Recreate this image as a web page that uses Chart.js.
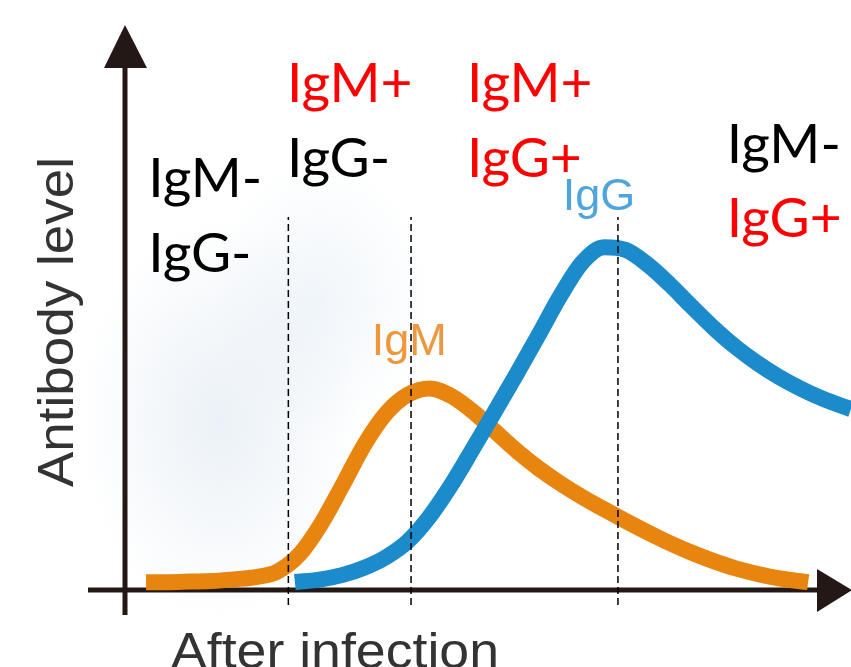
<!DOCTYPE html>
<html>
<head>
<meta charset="utf-8">
<script src="https://cdn.jsdelivr.net/npm/chart.js@4"></script>
<style>
  html, body { margin: 0; padding: 0; }
  body {
    width: 851px; height: 667px; overflow: hidden;
    background:
      radial-gradient(ellipse 140px 200px at 220px 420px, rgba(205, 220, 234, 0.4), rgba(255,255,255,0) 100%),
      radial-gradient(ellipse 110px 140px at 320px 300px, rgba(214, 228, 240, 0.35), rgba(255,255,255,0) 100%),
      #ffffff;
  }
  canvas { display: block; }
</style>
</head>
<body>
<canvas id="chart" width="851" height="667"></canvas>
<script>
// curvas de anticuerpos (tiempo arbitrario 0-100, nivel arbitrario 0-100)
const igmX = [2.9, 6, 9, 12, 15, 18, 21, 24, 27, 30, 33, 36, 39, 42, 45, 48, 51, 54, 57, 60, 63, 66, 69, 72, 75, 78, 81, 84, 87, 90, 94.1];
const igmY = [1.4, 1.4, 1.5, 1.6, 1.9, 2.3, 3.3, 6.3, 11.8, 18.8, 26.0, 31.6, 34.9, 36.0, 34.6, 31.8, 28.3, 24.8, 21.7, 19.0, 16.6, 14.4, 12.3, 10.3, 8.4, 6.7, 5.2, 3.9, 2.9, 2.1, 1.4];
const iggX = [23.4, 27, 30, 33, 36, 39, 42, 45, 48, 51, 54, 57, 60, 63, 66, 69, 72, 75, 78, 81, 84, 87, 90, 93, 96, 100];
const iggY = [1.4, 1.9, 2.7, 4.0, 5.9, 8.75, 13.2, 18.9, 25.4, 32.0, 38.7, 45.6, 52.6, 58.5, 61.2, 60.7, 58.1, 54.6, 50.7, 46.9, 43.5, 40.6, 38.1, 36.0, 34.2, 32.3];

// limites de fase (lineas punteadas)
const phaseBounds = [22.5, 39.4, 67.9];
const dashRange = [-2.7, 66.6];

// etiquetas de cada fase
const phaseX = [3.2, 22.3, 47.1, 82.9];
const phaseY1 = [70.2, 87.1, 87.1, 76.25];
const phaseY2 = [56.8, 73.75, 73.75, 63.0];
const phaseIgm = ['IgM-', 'IgM+', 'IgM+', 'IgM-'];
const phaseIgg = ['IgG-', 'IgG-', 'IgG+', 'IgG+'];

// etiquetas de las curvas
const curveNames = ['IgM', 'IgG'];
const curveLabelX = [34.0, 60.3];
const curveLabelY = [42.0, 67.9];

const ORANGE = '#E8850F';
const BLUE = '#1B8BCB';
const AXIS = '#231815';

function toPoints(xs, ys) {
    return xs.map((x, i) => ({ x: x, y: ys[i] }));
}

// texto ajustado a un ancho dado
function fitText(ctx, text, x, y, width) {
    const w = ctx.measureText(text).width;
    ctx.save();
    ctx.translate(x, y);
    ctx.scale(width / w, 1);
    ctx.fillText(text, 0, 0);
    ctx.restore();
}

const dashedSets = phaseBounds.map(x => ({
    data: [{ x: x, y: dashRange[0] }, { x: x, y: dashRange[1] }],
    borderColor: '#000',
    borderWidth: 1.5,
    borderDash: [7, 4],
    pointRadius: 0,
    clip: false,
    order: -1
}));

// ejes con flecha y textos
const decorPlugin = {
    id: 'decor',
    beforeDatasetsDraw(chart) {
        const ctx = chart.ctx;
        const xs = chart.scales.x;
        const ys = chart.scales.y;
        const left = xs.getPixelForValue(0);
        const base = ys.getPixelForValue(0);
        ctx.save();
        ctx.strokeStyle = AXIS;
        ctx.fillStyle = AXIS;
        ctx.lineWidth = 5;
        // eje y
        ctx.beginPath();
        ctx.moveTo(left, base + 25);
        ctx.lineTo(left, 60);
        ctx.stroke();
        ctx.beginPath();
        ctx.moveTo(left, 25);
        ctx.lineTo(left - 21, 68);
        ctx.lineTo(left + 22, 68);
        ctx.closePath();
        ctx.fill();
        // eje x
        ctx.beginPath();
        ctx.moveTo(left - 37, base);
        ctx.lineTo(822, base);
        ctx.stroke();
        ctx.beginPath();
        ctx.moveTo(852, base);
        ctx.lineTo(817, base - 21);
        ctx.lineTo(817, base + 22);
        ctx.closePath();
        ctx.fill();

        // titulos de ejes
        ctx.fillStyle = '#333';
        ctx.font = '50px "Liberation Sans", Arial, sans-serif';
        ctx.textBaseline = 'alphabetic';
        ctx.textAlign = 'left';
        ctx.save();
        ctx.translate(73, 487);
        ctx.rotate(-Math.PI / 2);
        fitText(ctx, 'Antibody level', 0, 0, 330);
        ctx.restore();
        fitText(ctx, 'After infection', 171, 668, 328);
        ctx.restore();
    },
    afterDraw(chart) {
        const ctx = chart.ctx;
        const xs = chart.scales.x;
        const ys = chart.scales.y;
        ctx.save();
        ctx.textAlign = 'left';
        ctx.textBaseline = 'alphabetic';
        // nombres de curvas
        ctx.font = '45px "Liberation Sans", Arial, sans-serif';
        const curveColors = ['rgba(236, 140, 40, 0.9)', 'rgba(60, 155, 215, 0.9)'];
        curveNames.forEach((n, i) => {
            ctx.fillStyle = curveColors[i];
            ctx.fillText(n, xs.getPixelForValue(curveLabelX[i]), ys.getPixelForValue(curveLabelY[i]));
        });
        // estado de anticuerpos por fase
        ctx.font = '55px Lato, "Noto Sans", sans-serif';
        phaseX.forEach((x, i) => {
            const px = xs.getPixelForValue(x);
            ctx.fillStyle = phaseIgm[i].endsWith('+') ? '#FF0000' : '#000000';
            ctx.fillText(phaseIgm[i], px, ys.getPixelForValue(phaseY1[i]));
            ctx.fillStyle = phaseIgg[i].endsWith('+') ? '#FF0000' : '#000000';
            ctx.fillText(phaseIgg[i], px, ys.getPixelForValue(phaseY2[i]));
        });
        ctx.restore();
    }
};

new Chart(document.getElementById('chart'), {
    type: 'line',
    data: {
        datasets: [
            {
                label: 'IgG',
                data: toPoints(iggX, iggY),
                borderColor: BLUE,
                borderWidth: 16,
                borderCapStyle: 'butt',
                borderJoinStyle: 'round',
                cubicInterpolationMode: 'monotone',
                pointRadius: 0,
                clip: false,
                order: 0
            },
            {
                label: 'IgM',
                data: toPoints(igmX, igmY),
                borderColor: ORANGE,
                borderWidth: 16,
                borderCapStyle: 'butt',
                borderJoinStyle: 'round',
                cubicInterpolationMode: 'monotone',
                pointRadius: 0,
                clip: false,
                order: 1
            },
            ...dashedSets
        ]
    },
    options: {
        responsive: false,
        animation: false,
        events: [],
        layout: { padding: { left: 125, right: 0, top: 30, bottom: 77 } },
        scales: {
            x: { type: 'linear', min: 0, max: 100, display: false },
            y: { type: 'linear', min: 0, max: 100, display: false }
        },
        plugins: {
            legend: { display: false },
            tooltip: { enabled: false }
        }
    },
    plugins: [decorPlugin]
});
</script>
</body>
</html>
